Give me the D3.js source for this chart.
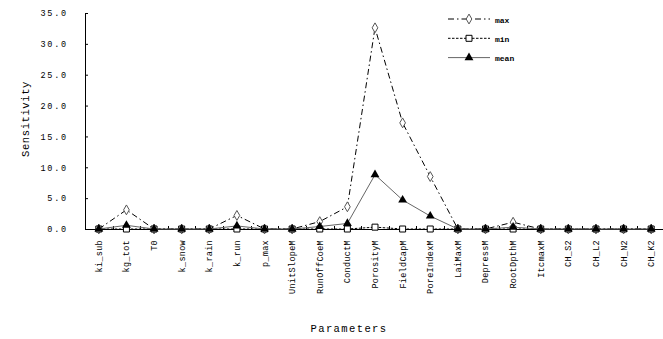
<!DOCTYPE html>
<html>
<head>
<meta charset="utf-8">
<script src="https://cdn.jsdelivr.net/npm/d3@7"></script>
<style>
  body { margin: 0; background: #fff; }
  text { font-family: "Liberation Mono", "DejaVu Sans Mono", monospace; fill: #000; }
</style>
</head>
<body>
<div id="chart"></div>
<script>
const categories = ['ki_sub', 'kg_tot', 'T0', 'k_snow', 'k_rain', 'k_run', 'p_max',
  'UnitSlopeM', 'RunOffCoeM', 'ConductM', 'PorosityM', 'FieldCapM', 'PoreIndexM',
  'LaiMaxM', 'DepressM', 'RootDpthM', 'ItcmaxM', 'CH_S2', 'CH_L2', 'CH_N2', 'CH_K2'];
const maxValues  = [0, 3.1, 0, 0, 0, 2.2, 0, 0, 1.2, 3.6, 32.6, 17.2, 8.5, 0, 0, 1.1, 0, 0, 0, 0, 0];
const minValues  = [0, 0, 0, 0, 0, 0, 0, 0, 0, 0, 0.3, 0, 0, 0, 0, 0, 0, 0, 0, 0, 0];
const meanValues = [0, 0.6, 0, 0, 0, 0.5, 0, 0, 0.4, 0.9, 8.8, 4.7, 2.1, 0, 0, 0.3, 0, 0, 0, 0, 0];
const yTicks = [0, 5, 10, 15, 20, 25, 30, 35];

const width = 663, height = 339;
const svg = d3.select('#chart').append('svg')
  .attr('width', width).attr('height', height);

const x = d3.scaleBand().domain(categories).range([85, 665]);
const y = d3.scaleLinear().domain([0, 35]).range([229, 13]);
const cx = d => x(d) + x.bandwidth() / 2;

// y axis
const yAxis = svg.append('g')
  .attr('transform', 'translate(85,0)')
  .call(d3.axisLeft(y).tickValues(yTicks).tickFormat(d3.format('.1f'))
    .tickSizeInner(-3).tickSizeOuter(0).tickPadding(17));
yAxis.select('.domain').attr('stroke', '#000');
yAxis.selectAll('.tick line').attr('stroke', '#000');
yAxis.selectAll('text').attr('font-size', 8.5).attr('letter-spacing', 1.8)
  .style('font-family', '"Liberation Mono", monospace');

// x axis
svg.append('line').attr('x1', 85).attr('x2', 663).attr('y1', 229.5).attr('y2', 229.5)
  .attr('stroke', '#000');
svg.append('g').selectAll('line').data(categories.slice(1)).join('line')
  .attr('x1', d => Math.round(x(d)) + 0.5).attr('x2', d => Math.round(x(d)) + 0.5)
  .attr('y1', 226).attr('y2', 229).attr('stroke', '#000');

svg.append('g').selectAll('text').data(categories).join('text')
  .attr('transform', d => `translate(${cx(d)},240) rotate(-90)`)
  .attr('text-anchor', 'end').attr('dy', '0.35em')
  .attr('font-size', 8.5).attr('letter-spacing', 0.3)
  .text(d => d);

// axis titles
svg.append('text').attr('transform', 'translate(25,119) rotate(-90)')
  .attr('text-anchor', 'middle').attr('dy', '0.35em')
  .attr('font-size', 10.5).attr('letter-spacing', 0.6).text('Sensitivity');
svg.append('text').attr('x', 349).attr('y', 332)
  .attr('text-anchor', 'middle').attr('font-size', 10.5).attr('letter-spacing', 1.4)
  .text('Parameters');

const line = d3.line().x((d, i) => cx(categories[i])).y(d => y(d));

const series = [
  { name: 'max', values: maxValues, dash: '6,3,1.5,3', color: '#000', marker: 'diamond' },
  { name: 'min', values: minValues, dash: '2.5,1.5', color: '#000', marker: 'square' },
  { name: 'mean', values: meanValues, dash: null, color: '#666', marker: 'triangle' }
];

const symbols = {
  diamond: d3.symbol().type(d3.symbolDiamond).size(28),
  square: d3.symbol().type(d3.symbolSquare).size(36),
  triangle: d3.symbol().type(d3.symbolTriangle).size(34)
};

function drawMarker(g, type, px, py) {
  const p = g.append('path').attr('d', symbols[type]())
    .attr('transform', `translate(${px},${py})`);
  if (type === 'triangle') p.attr('fill', '#000');
  else if (type === 'square') p.attr('fill', '#fff').attr('stroke', '#000').attr('stroke-width', 1);
  else p.attr('fill', '#fff').attr('stroke', '#555').attr('stroke-width', 1);
}

series.forEach(s => {
  const g = svg.append('g');
  g.append('path').datum(s.values).attr('d', line)
    .attr('fill', 'none').attr('stroke', s.color).attr('stroke-width', 1)
    .attr('stroke-dasharray', s.dash);
  s.values.forEach((v, i) => drawMarker(g, s.marker, cx(categories[i]), y(v)));
});

// legend
const legend = svg.append('g');
series.forEach((s, i) => {
  const ly = 19 + i * 19.3;
  legend.append('line').attr('x1', 448).attr('x2', 490).attr('y1', ly).attr('y2', ly)
    .attr('stroke', s.color).attr('stroke-width', 1).attr('stroke-dasharray', s.dash);
  drawMarker(legend, s.marker, 469, ly);
  legend.append('text').attr('x', 495).attr('y', ly + 3.5)
    .attr('font-size', 8).attr('font-weight', 'bold').text(s.name);
});
</script>
</body>
</html>
